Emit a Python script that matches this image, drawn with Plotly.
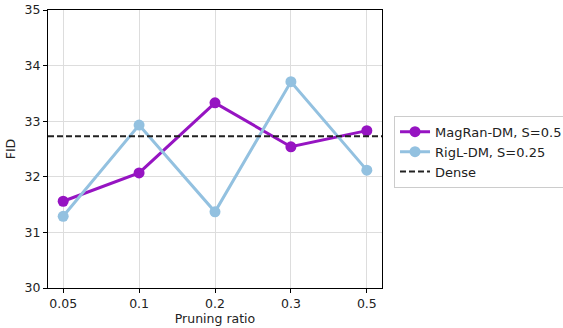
import plotly.graph_objects as go

ratios = ["0.05", "0.1", "0.2", "0.3", "0.5"]
magran = [31.56, 32.07, 33.33, 32.54, 32.83]
rigl = [31.29, 32.93, 31.37, 33.71, 32.12]
dense = 32.73

PURPLE = "#9614c2"
BLUE = "#93c1e0"
FONT = "DejaVu Sans"

fig = go.Figure()
fig.add_trace(go.Scatter(x=ratios, y=magran, mode="lines+markers", name="MagRan-DM, S=0.5",
                         line=dict(color=PURPLE, width=3), marker=dict(color=PURPLE, size=11)))
fig.add_trace(go.Scatter(x=ratios, y=rigl, mode="lines+markers", name="RigL-DM, S=0.25",
                         line=dict(color=BLUE, width=3), marker=dict(color=BLUE, size=11)))
fig.add_trace(go.Scatter(x=[None], y=[None], mode="lines", name="Dense",
                         line=dict(color="#222222", width=2, dash="6px,3px")))
fig.add_shape(type="line", xref="x domain", yref="y", x0=0, x1=1, y0=dense, y1=dense,
              line=dict(color="#222222", width=2, dash="6px,3px"))

axis_common = dict(showline=True, linecolor="black", linewidth=1, mirror=True,
                   ticks="outside", ticklen=4, tickcolor="black",
                   showgrid=True, gridcolor="#dddddd", gridwidth=1,
                   tickfont=dict(family=FONT, size=12.5, color="#222"),
                   zeroline=False, automargin=False)

fig.update_xaxes(type="category", categoryorder="array", categoryarray=ratios,
                 range=[-0.2, 4.2], title=dict(text="Pruning ratio", font=dict(family=FONT, size=12.5, color="#222"), standoff=4),
                 **axis_common)
fig.update_yaxes(range=[30, 35], dtick=1, title=dict(text="FID", font=dict(family=FONT, size=12.5, color="#222"), standoff=6),
                 **axis_common)

fig.update_layout(
    width=563, height=328,
    margin=dict(l=48, r=181, t=10, b=40, autoexpand=False),
    plot_bgcolor="white", paper_bgcolor="white",
    font=dict(family=FONT, size=12.5, color="#222"),
    legend=dict(x=1.036, y=0.49, xanchor="left", yanchor="middle",
                bordercolor="#cccccc", borderwidth=1, bgcolor="white",
                font=dict(family=FONT, size=13, color="#222"),
                itemwidth=30, tracegroupgap=0),
    showlegend=True,
)

fig.write_html("out.html", config={"displayModeBar": False},
               post_script="document.body.style.margin='0';")
